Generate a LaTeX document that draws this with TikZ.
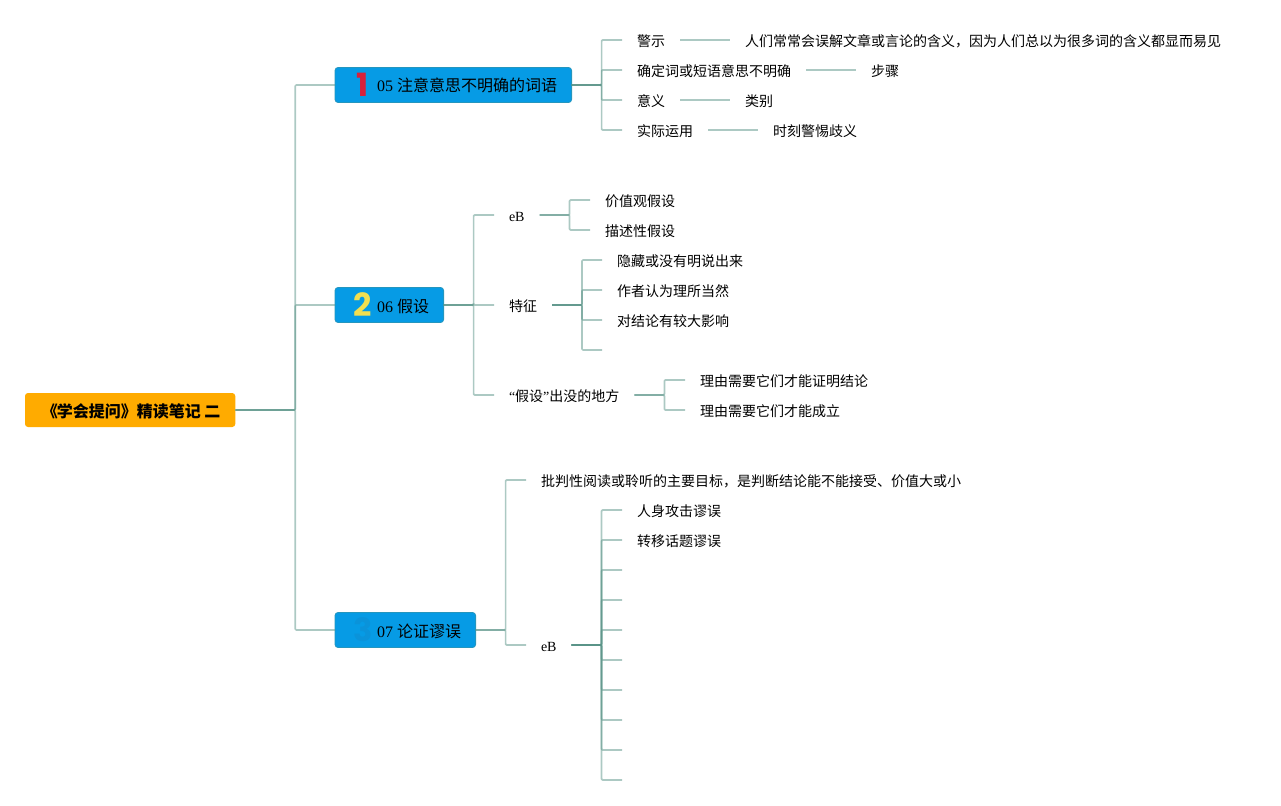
\documentclass[tikz,border=0pt]{standalone}
\usepackage{fontspec}
\setmainfont{Liberation Serif}
\newfontfamily\cjk{Noto Sans CJK SC}
\newfontfamily\iconfont{Poppins}
\definecolor{linkcol}{HTML}{5A9488}
\definecolor{topiccol}{HTML}{069BE5}
\definecolor{topicedge}{HTML}{2596BE}
\definecolor{rootcol}{HTML}{FFAB00}
\definecolor{iconred}{HTML}{D8203A}
\definecolor{iconyellow}{HTML}{F2DF50}
\definecolor{iconblue}{HTML}{0A93DA}

\begin{document}
\begin{tikzpicture}[x=1pt, y=-1pt, line cap=butt, line join=round,
	link/.style={draw=linkcol, draw opacity=0.5, line width=1.7pt, rounded corners=1pt},
	root/.style={fill=rootcol, rounded corners=3pt, inner xsep=14.8pt, inner ysep=0pt, outer sep=0pt, minimum height=34pt,
		text height=15pt, text depth=0pt, font=\fontsize{16}{18}\selectfont\cjk\bfseries},
	topic/.style={draw=topicedge, fill=topiccol, line width=0.8pt, rounded corners=3pt, inner xsep=14.6pt, inner ysep=0pt, outer sep=0pt,
		minimum height=35pt, text height=14pt, text depth=0pt, font=\fontsize{16}{18}\selectfont},
	leaf/.style={anchor=west, inner xsep=15pt, inner ysep=0pt, outer sep=0pt, text height=13pt, text depth=0pt,
		font=\fontsize{14}{16}\selectfont},
	icon/.style={inner sep=0pt, font=\fontsize{32}{32}\selectfont\iconfont\bfseries}]

\useasboundingbox (0,0) rectangle (1281,805);

% ================= Root and main topics =================
\node[root, anchor=west] (root) at (25,410) {\hspace{2pt}《\kern-1pt 学会提问》精读笔记 二};
\node[topic, anchor=west] (topicA) at (335,85) {\hspace{27.4pt}05 {\cjk 注意意思不明确的词语}};
\node[topic, anchor=west] (topicB) at (335,305) {\hspace{27.4pt}06 {\cjk 假设}};
\node[topic, anchor=west] (topicC) at (335,630) {\hspace{27.4pt}07 {\cjk 论证谬误}};

\node[icon, text=iconred] (iconA) at (363,85) {1};
\node[icon, text=iconyellow] (iconB) at (363,305) {2};
\node[icon, text=iconblue] (iconC) at (363,630) {3};

\foreach \t in {topicA,topicB,topicC}
	\draw[link] (root.east) -- ++(60,0) |- (\t.west);

% ================= Topic A: 05 =================
\node[leaf] (warn) at (622,40) {\cjk 警示};
\node[leaf] (vague) at (622,70) {\cjk 确定词或短语意思不明确};
\node[leaf] (sense) at (622,100) {\cjk 意义};
\node[leaf] (usage) at (622,130) {\cjk 实际运用};

\node[leaf] (warnT) at (730,40) {\cjk 人们常常会误解文章或言论的含义，因为人们总以为很多词的含义都显而易见};
\node[leaf] (vagueT) at (856,70) {\cjk 步骤};
\node[leaf] (senseT) at (730,100) {\cjk 类别};
\node[leaf] (usageT) at (758,130) {\cjk 时刻警惕歧义};

\foreach \c in {warn,vague,sense,usage} {
	\draw[link] (topicA.east) -- ++(30,0) |- (\c.west);
	\draw[link] (\c.east) -- (\c T.west);
}

% ================= Topic B: 06 =================
\node[leaf] (ebB) at (494,215) {eB};
\node[leaf] (trait) at (494,305) {\cjk 特征};
\node[leaf] (where) at (494,395) {“{\cjk 假设}”{\cjk 出没的地方}};

\foreach \c in {ebB,trait,where}
	\draw[link] (topicB.east) -- ++(30,0) |- (\c.west);

\node[leaf] (value) at (590,200) {\cjk 价值观假设};
\node[leaf] (descr) at (590,230) {\cjk 描述性假设};
\foreach \c in {value,descr}
	\draw[link] (ebB.east) -- ++(30,0) |- (\c.west);

\node[leaf] (hidden) at (602,260) {\cjk 隐藏或没有明说出来};
\node[leaf] (taken) at (602,290) {\cjk 作者认为理所当然};
\node[leaf] (impact) at (602,320) {\cjk 对结论有较大影响};
\coordinate (traitEnd) at (602,350);
\foreach \c in {hidden.west,taken.west,impact.west,traitEnd}
	\draw[link] (trait.east) -- ++(30,0) |- (\c);

\node[leaf] (needA) at (685,380) {\cjk 理由需要它们才能证明结论};
\node[leaf] (needB) at (685,410) {\cjk 理由需要它们才能成立};
\foreach \c in {needA,needB}
	\draw[link] (where.east) -- ++(30,0) |- (\c.west);

% ================= Topic C: 07 =================
\node[leaf] (goal) at (526,480) {\cjk 批判性阅读或聆听的主要目标，是判断结论能不能接受、价值大或小};
\node[leaf] (ebC) at (526,645) {eB};
\foreach \c in {goal,ebC}
	\draw[link] (topicC.east) -- ++(30,0) |- (\c.west);

\node[leaf] (adhom) at (622,510) {\cjk 人身攻击谬误};
\node[leaf] (shift) at (622,540) {\cjk 转移话题谬误};
\foreach \c in {adhom,shift}
	\draw[link] (ebC.east) -- ++(30,0) |- (\c.west);

% empty branches below
\foreach \y in {570,600,...,780} {
	\coordinate (stub\y) at (622,\y);
	\draw[link] (ebC.east) -- ++(30,0) |- (stub\y);
}

\end{tikzpicture}
\end{document}
